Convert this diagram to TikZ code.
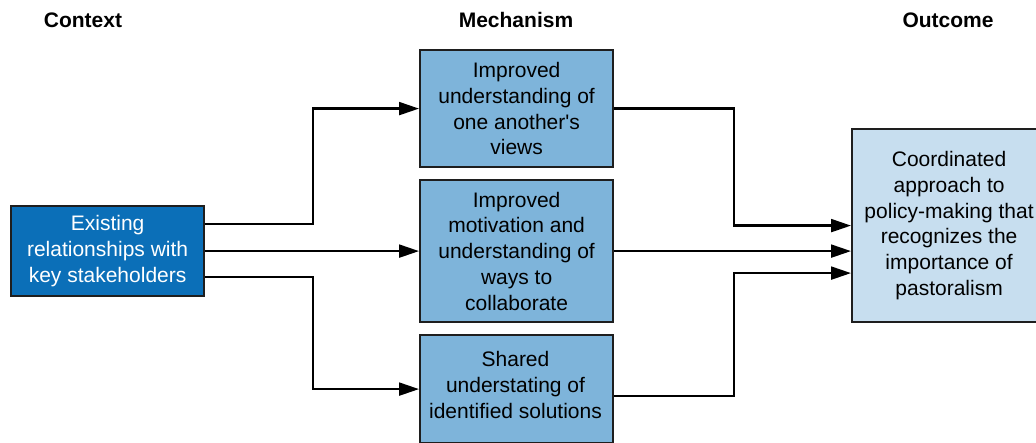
\documentclass[tikz,border=0pt]{standalone}
\usepackage{fontspec}
\setmainfont{Liberation Sans}
\usetikzlibrary{arrows.meta}
\definecolor{ctxblue}{HTML}{0B6FB8}
\definecolor{mechblue}{HTML}{7EB4DA}
\definecolor{outblue}{HTML}{C7DEEF}
\definecolor{edge}{HTML}{1E1E1E}
\tikzset{
  box/.style={draw=edge, line width=2.2pt, anchor=north west, inner sep=0pt, align=center,
    font=\fontsize{21}{25.8}\selectfont},
  header/.style={anchor=base, font=\fontsize{21}{25.5}\selectfont\bfseries},
  arr/.style={line width=2.2pt, draw=black, -{Triangle[length=20pt,width=13pt]}},
}
\begin{document}
\begin{tikzpicture}[x=1pt,y=-1pt]
\useasboundingbox (0,0) rectangle (1036,443);
\node[header] (hc) at (83,27.5) {Context};
\node[header] (hm) at (516,27.5) {Mechanism};
\node[header] (ho) at (948,27.5) {Outcome};

\node[box, fill=ctxblue, text=white, minimum width=193pt, minimum height=90pt] (ctx) at (10,205)
  {Existing\\relationships with\\key stakeholders};
\node[box, fill=mechblue, minimum width=193pt, minimum height=117pt] (m1) at (419,49)
  {Improved\\understanding of\\one another\textquotesingle s\\views};
\node[box, fill=mechblue, minimum width=193pt, minimum height=142pt] (m2) at (419,179)
  {Improved\\motivation and\\understanding of\\ways to\\collaborate};
\node[box, fill=mechblue, minimum width=193pt, minimum height=108pt, anchor=north west] (m3) at (419,334)
  {};
\node[align=center, font=\fontsize{21}{25.8}\selectfont, anchor=center] (m3t) at (515.5,385)
  {Shared\\understating of\\identified solutions};
\node[box, fill=outblue, minimum width=194pt, minimum height=193pt] (out) at (851,128)
  {Coordinated\\approach to\\policy-making that\\recognizes the\\importance of\\pastoralism};

\draw[arr] ([yshift=27pt]ctx.east) -- ++(108,0) |- (m1.west);
\draw[arr] (ctx.east) -- (m2.west);
\draw[arr] ([yshift=-26pt]ctx.east) -- ++(108,0) |- (m3.west);

\draw[arr] (m1.east) -- ++(120,0) |- (out.west);
\draw[arr] (m2.east) -- ([yshift=-25.5pt]out.west);
\draw[arr] ([yshift=-7pt]m3.east) -- ++(120,0) |- ([yshift=-47.5pt]out.west);
\end{tikzpicture}
\end{document}
